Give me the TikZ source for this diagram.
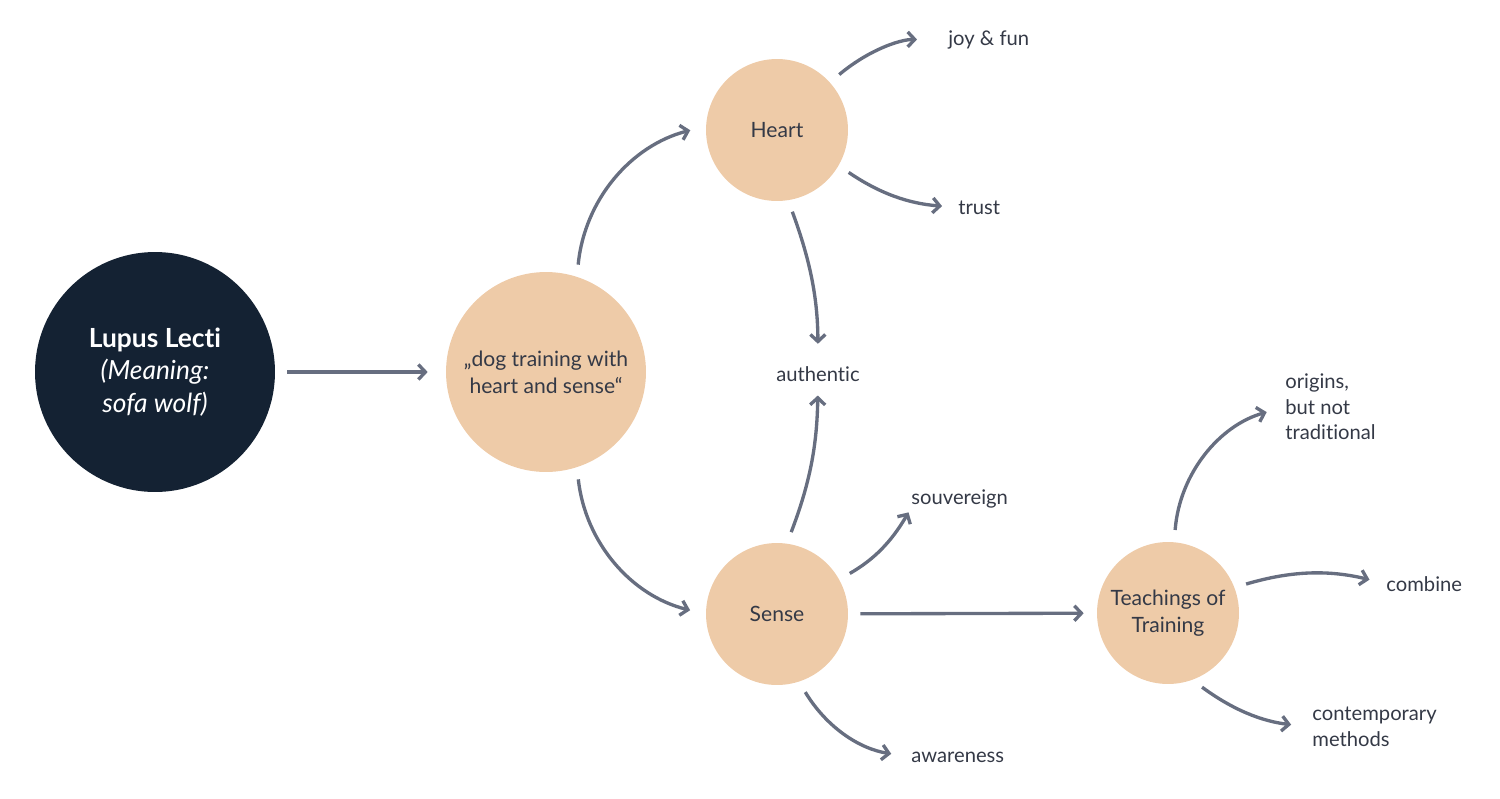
\documentclass[tikz,border=0pt]{standalone}
\usepackage{fontspec}
\setmainfont{Lato}[Ligatures={NoCommon}]
\usepackage{tikz}
\usetikzlibrary{arrows.meta, positioning}
\definecolor{navy}{HTML}{142233}
\definecolor{peach}{HTML}{EECBA8}
\definecolor{arrowgray}{HTML}{676E80}
\definecolor{inkgray}{HTML}{343946}

\begin{document}
\begin{tikzpicture}[x=0.02cm, y=-0.02cm,
  hub/.style={circle, fill=navy, text=white, minimum size=4.8cm, align=center,
              font=\fontsize{15}{18.5}\selectfont, inner sep=0pt},
  topic/.style={circle, fill=peach, text=inkgray, minimum size=2.84cm, align=center,
                font=\fontsize{12}{15.5}\selectfont, inner sep=0pt},
  leaf/.style={inner sep=0pt, text=inkgray, align=left, font=\fontsize{11.5}{14.5}\selectfont},
  arrow/.style={-{Straight Barb[length=4pt, width=8.5pt]}, line width=1.9pt,
                draw=arrowgray, shorten <=0.24cm},
]
\useasboundingbox (0,0) rectangle (1500,798);

\node[hub] (lupus) at (155,372) {\textbf{Lupus Lecti}\\\textit{(Meaning:}\\\textit{sofa wolf)}};
\node[topic, minimum size=4cm] (dog) at (546,372) {„dog training with\\heart and sense“};
\node[topic] (heart) at (777,130) {Heart};
\node[topic] (sense) at (777,614) {Sense};
\node[topic] (teach) at (1168,613) {Teachings of\\Training};

\node[leaf, anchor=base west] (joy)        at (948,45)   {joy \& fun};
\node[leaf, anchor=base west] (trust)      at (958,214)  {trust};
\node[leaf, anchor=base]      (authentic)  at (818,381)  {authentic};
\node[leaf, anchor=base west] (souvereign) at (911,504)  {souvereign};
\node[leaf, anchor=base west] (awareness)  at (911,762)  {awareness};
\node[leaf, anchor=west]      (origins)    at (1285,407) {origins,\\but not\\traditional};
\node[leaf, anchor=base west] (combine)    at (1386,591) {combine};
\node[leaf, anchor=west]      (contemporary) at (1312,727) {contemporary\\methods};

\draw[arrow, shorten >=0.36cm] (lupus) -- (dog);
\draw[arrow, shorten >=0.32cm] (dog.72) to[bend left=35] (heart.177);
\draw[arrow, shorten >=0.32cm] (dog.-72) to[bend right=35] (sense.180);
\draw[arrow, shorten >=0.62cm] (heart.42) to[bend left=20] (joy.west);
\draw[arrow, shorten >=0.32cm] (heart.-30) to[bend right=15] (trust.west);
\draw[arrow, shorten >=0.44cm] (heart.-81) to[bend left=10] (authentic.north);
\draw[arrow, shorten >=0.28cm] (sense.82) to[bend right=10] (authentic.south);
\draw[arrow, shorten >=0.1cm] (sense.29) to[bend right=15] (souvereign.south west);
\draw[arrow, shorten >=0.26cm] (sense) -- (teach);
\draw[arrow, shorten >=0.4cm] (sense.-72) to[bend right=25] (awareness.west);
\draw[arrow, shorten >=0.38cm] (teach.85) to[bend left=35] (origins.west);
\draw[arrow, shorten >=0.34cm] (teach.21) to[bend left=15] (combine.west);
\draw[arrow, shorten >=0.42cm] (teach.-70) to[bend right=15] (contemporary.west);
\end{tikzpicture}
\end{document}
